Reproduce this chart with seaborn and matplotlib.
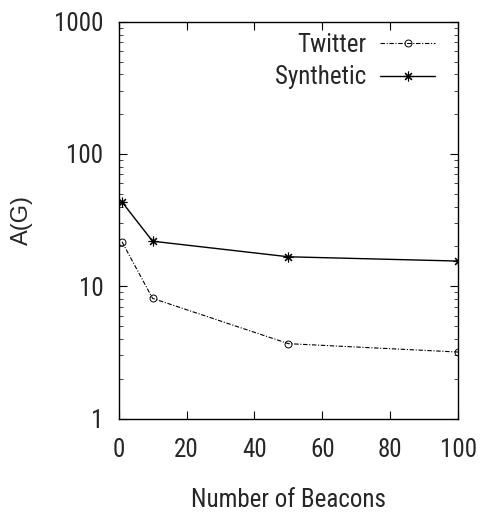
import numpy as np
import pandas as pd
import matplotlib
matplotlib.use("Agg")
import matplotlib.pyplot as plt
import seaborn as sns
from matplotlib.ticker import LogLocator, FixedLocator, NullFormatter, FuncFormatter

beacons = [1, 10, 50, 100]
twitter = [21.7, 8.1, 3.68, 3.18]
synthetic = [43.4, 21.9, 16.7, 15.5]
series_names = ["Twitter", "Synthetic"]

sns.set_theme(style="ticks")
plt.rcParams['font.family'] = ['Roboto Condensed', 'Liberation Sans', 'DejaVu Sans']

df = pd.DataFrame({
    "beacons": beacons * 2,
    "value": twitter + synthetic,
    "series": [series_names[0]] * len(beacons) + [series_names[1]] * len(beacons),
})

fig = plt.figure(figsize=(4.8, 5.17), dpi=100)
ax = fig.add_axes([0.247, 0.1905, 0.708, 0.7675])

sns.lineplot(data=df[df.series == "Twitter"], x="beacons", y="value", ax=ax,
             color="black", linewidth=0.8, marker="o", markersize=5,
             markerfacecolor="none", markeredgecolor="black", markeredgewidth=0.7,
             label="Twitter")
ax.lines[-1].set_dashes([4, 1.5, 1, 1.5])
sns.lineplot(data=df[df.series == "Synthetic"], x="beacons", y="value", ax=ax,
             color="black", linewidth=1.0, marker=(8, 2, 0), markersize=7,
             markeredgecolor="black", markeredgewidth=0.8,
             label="Synthetic")

ax.set_yscale("log")
ax.set_xlim(0, 100)
ax.set_ylim(1, 1000)
ax.xaxis.set_major_locator(FixedLocator([0, 20, 40, 60, 80, 100]))
ax.yaxis.set_major_locator(FixedLocator([1, 10, 100, 1000]))
ax.yaxis.set_major_formatter(FuncFormatter(lambda v, p: f"{v:g}"))
ax.yaxis.set_minor_locator(LogLocator(base=10, subs=np.arange(2, 10)))
ax.yaxis.set_minor_formatter(NullFormatter())

ax.tick_params(axis="both", which="major", direction="in", length=6, width=0.8,
               top=True, right=True, labelsize=18, color="black")
ax.tick_params(axis="x", which="major", pad=14)
ax.tick_params(axis="y", which="major", pad=11)
ax.tick_params(axis="y", which="minor", direction="in", length=3, width=0.6,
               left=True, right=True)
for s in ax.spines.values():
    s.set_linewidth(1.0)
    s.set_color("black")

ax.set_xlabel("Number of Beacons", fontsize=18, labelpad=19)
ax.set_ylabel("A(G)", fontsize=17, labelpad=15, family=['Liberation Sans'])

leg = ax.legend(loc="upper right", bbox_to_anchor=(0.991, 1.023),
                frameon=False, markerfirst=False,
                fontsize=18, handlelength=2.2, handletextpad=0.55,
                labelspacing=0.35, borderaxespad=0.5, borderpad=0.3)

fig.savefig("out.png", dpi=100)
